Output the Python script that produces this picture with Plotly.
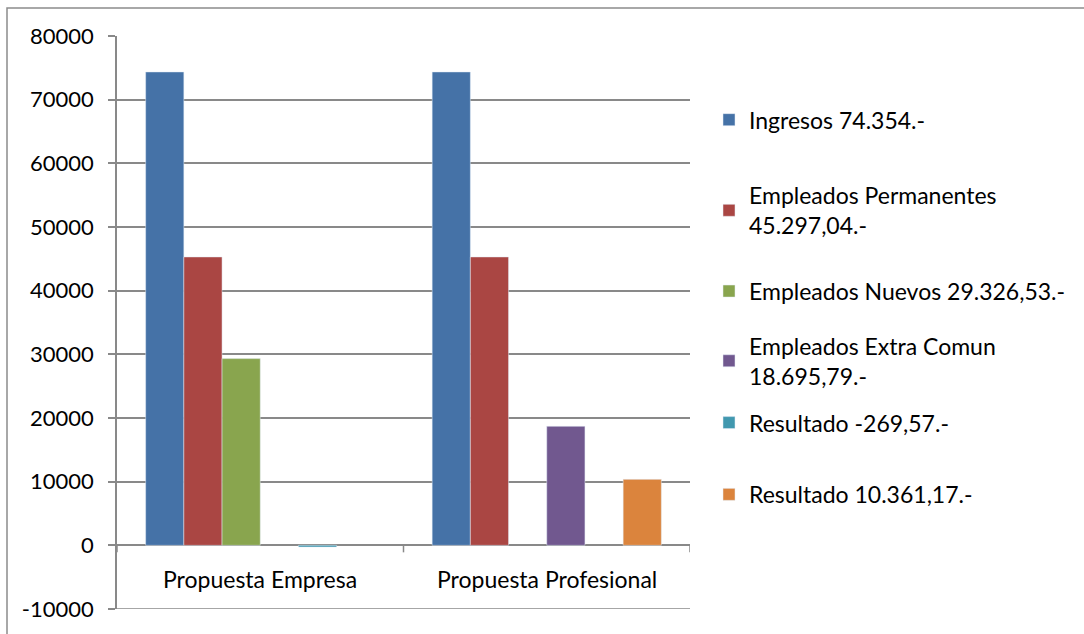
import plotly.graph_objects as go

categories = ["Propuesta Empresa", "Propuesta Profesional"]

series_names = [
    "Ingresos 74.354.-",
    "Empleados Permanentes<br>45.297,04.-",
    "Empleados Nuevos 29.326,53.-",
    "Empleados Extra Comun<br>18.695,79.-",
    "Resultado -269,57.-",
    "Resultado 10.361,17.-",
]
ingresos = [74354, 74354]
permanentes = [45297.04, 45297.04]
nuevos = [29326.53, None]
extra_comun = [None, 18695.79]
resultado_empresa = [-269.57, None]
resultado_profesional = [None, 10361.17]
series_values = [ingresos, permanentes, nuevos, extra_comun,
                 resultado_empresa, resultado_profesional]

colors = ["#4572A7", "#AA4643", "#89A54E", "#71588F", "#4198AF", "#DB843D"]
y_ticks = list(range(-10000, 80001, 10000))

FONT = "Lato"
GRID = "#898989"
W, H = 1084, 634
L, R, T, B = 117, 394, 36, 23
PW, PH = W - L - R, H - T - B

def px_x(p):
    return (p - L) / PW

def px_y(p):
    return 1 - (p - T) / PH

# vertical centre of each legend entry, in pixels
legend_centres = [120, 211, 292, 362, 424, 496]

fig = go.Figure()
for i, (name, vals, col) in enumerate(zip(series_names, series_values, colors)):
    lg = "legend" if i == 0 else f"legend{i + 1}"
    fig.add_trace(go.Bar(
        x=categories, y=vals, name=name, marker_color=col,
        legend=lg,
    ))

layout_legends = {}
for i, cy in enumerate(legend_centres):
    key = "legend" if i == 0 else f"legend{i + 1}"
    layout_legends[key] = dict(
        x=px_x(709), y=px_y(cy), xanchor="left", yanchor="middle",
        xref="paper", yref="paper",
        font=dict(family=FONT, size=23, color="#000000"),
        bgcolor="rgba(0,0,0,0)", itemclick=False, itemdoubleclick=False,
        tracegroupgap=0,
    )

shapes = [
    # outer chart frame
    dict(type="rect", xref="paper", yref="paper",
         x0=px_x(7), x1=px_x(1100), y0=px_y(8), y1=px_y(650),
         line=dict(color="#8c8c8c", width=1.5), layer="below"),
    # bottom gridline of the plot area
    dict(type="line", xref="paper", yref="y", x0=0, x1=1,
         y0=-10000, y1=-10000, line=dict(color=GRID, width=1.5)),
]
# category-boundary tick marks on the zero line
for xb in [-0.5, 0.5, 1.5]:
    shapes.append(dict(type="line", xref="x", yref="y", ysizemode="pixel",
                       x0=xb, x1=xb, yanchor=0, y0=0, y1=-7,
                       line=dict(color=GRID, width=1.5)))

annotations = [
    dict(x=c, y=0, xref="x", yref="y", text=c, showarrow=False,
         yanchor="top", yshift=-18,
         font=dict(family=FONT, size=23, color="#000000"))
    for c in categories
]

fig.update_layout(
    width=W, height=H,
    margin=dict(l=L, r=R, t=T, b=B, pad=0),
    paper_bgcolor="white", plot_bgcolor="white",
    barmode="group", bargap=0.2, bargroupgap=0,
    showlegend=True,
    shapes=shapes, annotations=annotations,
    **layout_legends,
    xaxis=dict(showticklabels=False, showgrid=False, showline=False,
               ticks="", range=[-0.5, 1.5], zeroline=False),
    yaxis=dict(range=[-10000, 80000], tickvals=y_ticks,
               ticktext=[str(v) for v in y_ticks],
               showgrid=True, gridcolor=GRID, gridwidth=1.5,
               zeroline=True, zerolinecolor=GRID, zerolinewidth=1.5,
               showline=True, linecolor=GRID, linewidth=1.5,
               ticks="outside", ticklen=7, tickcolor=GRID, tickwidth=1.5,
               tickfont=dict(family=FONT, size=22, color="#000000"),
               ticklabelstandoff=10),
)

fig.write_html("out.html")
